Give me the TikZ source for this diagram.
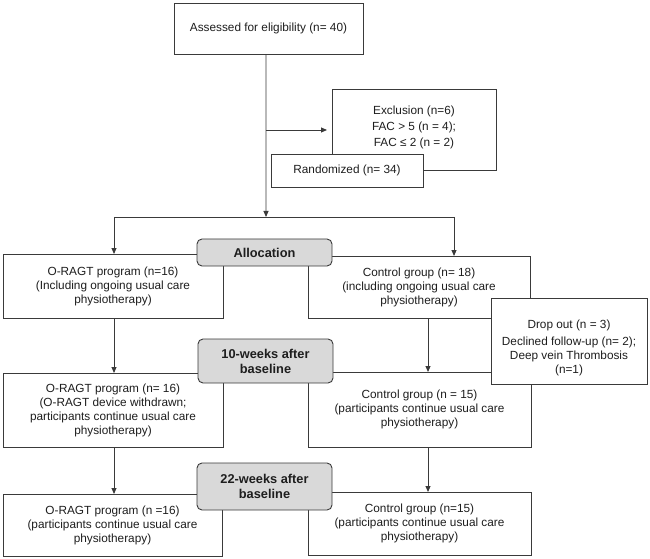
\documentclass[tikz,border=0pt]{standalone}
\usepackage{fontspec}
\setmainfont{Liberation Sans}
\usetikzlibrary{arrows.meta,backgrounds}
\definecolor{linec}{HTML}{3A3A3A}
\definecolor{stagefill}{HTML}{D9D9D9}
\definecolor{txt}{HTML}{1E1E1E}
\begin{document}
\begin{tikzpicture}[x=1bp,y=-1bp,
 box/.style={draw=linec, fill=white, line width=0.9bp, inner sep=0pt, outer sep=0pt,
   align=center, anchor=north west, text=txt, font=\fontsize{11.8bp}{14bp}\selectfont},
 stagebox/.style={box, fill=stagefill, rounded corners=5bp,
   font=\bfseries\fontsize{12.8bp}{15bp}\selectfont},
 conn/.style={draw=linec, line width=0.9bp},
 arr/.style={conn, -{Triangle[length=6bp,width=5bp]}}]
\useasboundingbox (0,0) rectangle (650,559);

\node[box, minimum width=189bp, minimum height=51bp] (top) at (174,3) {Assessed for eligibility (n= 40)};
\node[box, minimum width=164bp, minimum height=81bp] (excl) at (332,89)
  {Exclusion (n=6)\\[2bp]FAC > 5 (n = 4);\\[2bp]FAC ≤ 2 (n = 2)\rule[-7.5bp]{0pt}{7.5bp}};
\node[box, minimum width=152bp, minimum height=33bp] (rand) at (271,154) {Randomized (n= 34)};

\node[box, minimum width=220bp, minimum height=64bp] (L1) at (3,254)
  {O-RAGT program (n=16)\\(Including ongoing usual care\\physiotherapy)};
\node[box, minimum width=222bp, minimum height=62bp] (C1) at (308,256)
  {Control group (n= 18)\\(including ongoing usual care\\physiotherapy)};
\node[stagebox, minimum width=135bp, minimum height=27bp] (alloc) at (197,239) {Allocation};

\node[box, minimum width=220bp, minimum height=74bp] (L2) at (3,373)
  {O-RAGT program (n= 16)\\(O-RAGT device withdrawn;\\participants continue usual care\\physiotherapy)};
\node[box, minimum width=223bp, minimum height=75bp] (C2) at (308,372)
  {Control group (n = 15)\\(participants continue usual care\\physiotherapy)};
\node[box, minimum width=156bp, minimum height=86bp] (drop) at (491,298)
  {\rule{0pt}{23.4bp}Drop out (n = 3)\\[3bp]Declined follow-up (n= 2);\\Deep vein Thrombosis\\(n=1)};
\node[stagebox, minimum width=135bp, minimum height=44bp] (wk10) at (198,339) {10-weeks after\\baseline};

\node[box, minimum width=219bp, minimum height=62bp] (L3) at (3,494)
  {O-RAGT program (n =16)\\(participants continue usual care\\physiotherapy)};
\node[box, minimum width=223bp, minimum height=63bp] (C3) at (308,492)
  {Control group (n=15)\\(participants continue usual care\\physiotherapy)};
\node[stagebox, minimum width=135bp, minimum height=47bp] (wk22) at (197,463) {22-weeks after\\baseline};

\coordinate (split) at (266,217);
\coordinate (sl) at (114,217);
\coordinate (sr) at (454,217);
\coordinate (ex0) at (266,130);

\begin{scope}[on background layer]
  \draw[arr] ([xshift=-2.5bp]top.south) -- (split);
  \draw[conn] (sl) -- (sr);
  \draw[arr] (sl) -- (sl |- L1.north);
  \draw[arr] (sr) -- (sr |- C1.north);
  \draw[arr, shorten >=5bp] (ex0) -- (ex0 -| excl.west);
  \draw[arr] ([xshift=1bp]L1.south) -- ([xshift=1bp]L1.south |- L2.north);
  \draw[arr] ([xshift=1bp]L2.south) -- ([xshift=1bp]L2.south |- L3.north);
  \draw[arr] ([xshift=9bp]C1.south) -- ([xshift=9bp]C1.south |- C2.north);
  \draw[arr] ([xshift=8.5bp]C2.south) -- ([xshift=8.5bp]C2.south |- C3.north);
\end{scope}
\end{tikzpicture}
\end{document}
